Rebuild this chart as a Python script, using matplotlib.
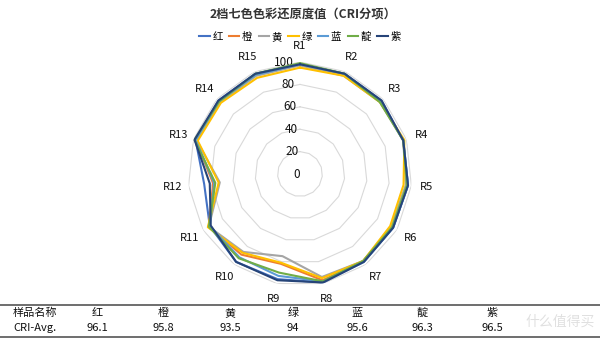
import numpy as np
import matplotlib
matplotlib.use("Agg")
import matplotlib.pyplot as plt

plt.rcParams['font.family'] = ['Noto Sans CJK SC', 'DejaVu Sans']

# R1..R15 special colour rendering indices for each colour setting
categories = ['R%d' % i for i in range(1, 16)]
series_names = ['红', '橙', '黄', '绿', '蓝', '靛', '紫']
red = [98, 98, 98, 97, 97, 96, 97, 99, 96, 97, 93, 86, 98, 98, 98]
orange = [98, 97, 97, 97, 96, 95, 96, 97, 82, 89, 94, 78, 98, 97, 97]
yellow = [97, 96, 96, 97, 95, 94, 96, 94, 75, 86, 94, 72, 97, 96, 96]
green = [95, 96, 96, 98, 93, 93, 96, 95, 81, 87, 95, 73, 96, 95, 94]
blue = [98, 98, 97, 97, 97, 96, 97, 98, 93, 92, 93, 77, 98, 97, 97]
indigo = [99, 98, 96, 97, 96, 95, 96, 98, 90, 93, 94, 76, 99, 97, 98]
purple = [98, 98, 98, 97, 97, 96, 97, 99, 97, 97, 92, 81, 99, 98, 98]
cri_avg = ['96.1', '95.8', '93.5', '94', '95.6', '96.3', '96.5']
ticks = [0, 20, 40, 60, 80, 100]

colors = ['#4472C4', '#ED7D31', '#A5A5A5', '#FFC000', '#5B9BD5', '#70AD47', '#264478']
all_series = [red, orange, yellow, green, blue, indigo, purple]

fig = plt.figure(figsize=(6, 3.43), dpi=100)
ax = fig.add_axes([0.3133, 0.1662, 0.3733, 0.653], projection='polar')
ax.set_theta_offset(np.pi / 2)
ax.set_theta_direction(-1)
ax.set_ylim(0, 100)
ax.grid(False)
ax.spines['polar'].set_visible(False)
ax.set_xticks([])
ax.set_yticks([])

angles = np.linspace(0, 2 * np.pi, len(categories), endpoint=False)
closed = np.append(angles, angles[0])

# polygon grid rings
for t in ticks[1:]:
    ax.plot(closed, [t] * len(closed), color='#D9D9D9', lw=0.8, zorder=1)
    ax.text(-0.055, t, str(t), ha='right', va='center', fontsize=8.5,
            color='#111111', fontweight='medium')
ax.text(-0.0, 0, '0', ha='right', va='center', fontsize=8.5, color='#111111',
        fontweight='medium')

for name, vals, c in zip(series_names, all_series, colors):
    ax.plot(closed, vals + [vals[0]], color=c, lw=1.5, label=name, zorder=3)

for a, lab in zip(angles, categories):
    ax.text(a, 114, lab, ha='center', va='center', fontsize=8, color='#111111',
            fontweight='medium')

fig.text(0.505, 0.957, '2档七色色彩还原度值（CRI分项）', ha='center', va='center',
         fontsize=8.8, fontweight='bold', color='#333333')
handles, labels = ax.get_legend_handles_labels()
fig.legend(handles, labels, loc='center', bbox_to_anchor=(0.5, 0.892), ncol=7,
           frameon=False, fontsize=7.5, handlelength=1.0, handletextpad=0.25,
           columnspacing=0.6)

# summary table below the chart
line_top = 1 - 305 / 343
line_bot = 1 - 337 / 343
fig.add_artist(plt.Line2D([0, 1], [line_top, line_top], color='#555555', lw=1.2))
fig.add_artist(plt.Line2D([0, 1], [line_bot, line_bot], color='#555555', lw=1.2))
row1 = 1 - 313 / 343
row2 = 1 - 328 / 343
col_x = [97, 163, 230, 293, 357, 422, 492]
fig.text(13 / 600, row1, '样品名称', ha='left', va='center', fontsize=8, color='#111111')
fig.text(13 / 600, row2, 'CRI-Avg.', ha='left', va='center', fontsize=8, color='#111111')
for x, name, v in zip(col_x, series_names, cri_avg):
    fig.text(x / 600, row1, name, ha='center', va='center', fontsize=8, color='#111111')
    fig.text(x / 600, row2, v, ha='center', va='center', fontsize=8, color='#111111')

# site watermark
fig.text(595 / 600, 1 - 322 / 343, '什么值得买', ha='right', va='center',
         fontsize=10, color='#DDDDDD', alpha=0.9)

fig.savefig('out.png', dpi=100)
